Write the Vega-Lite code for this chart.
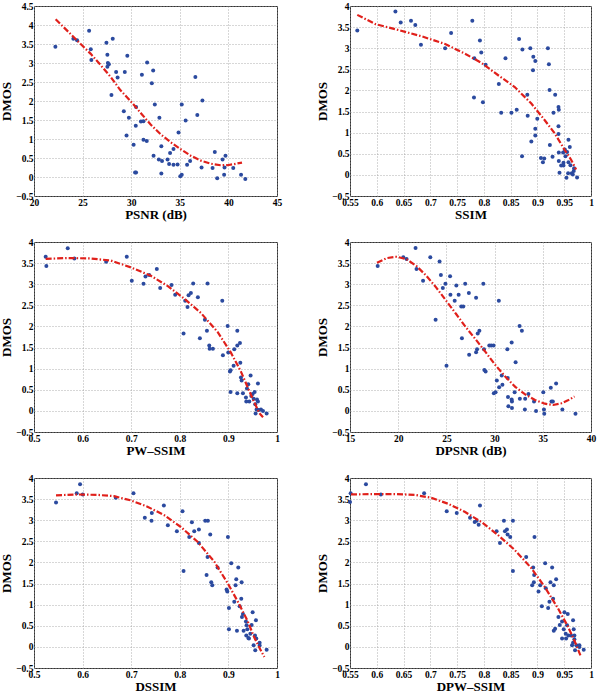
{
"$schema": "https://vega.github.io/schema/vega-lite/v6.json",
"padding": {"left": 0, "top": 0, "right": 0, "bottom": 0},
"datasets": {
"p1": [{"x":22.2,"y":3.43},{"x":24.05,"y":3.64},{"x":24.43,"y":3.6},{"x":25.67,"y":3.85},{"x":25.84,"y":3.36},{"x":25.9,"y":3.08},{"x":27.45,"y":3.53},{"x":27.55,"y":3.22},{"x":27.6,"y":3.0},{"x":27.7,"y":2.97},{"x":27.55,"y":2.9},{"x":28.1,"y":3.64},{"x":28.45,"y":2.76},{"x":28.6,"y":2.62},{"x":27.97,"y":2.16},{"x":29.34,"y":2.76},{"x":29.6,"y":3.19},{"x":29.24,"y":1.73},{"x":29.76,"y":1.56},{"x":29.52,"y":1.09},{"x":30.25,"y":0.85},{"x":30.5,"y":1.84},{"x":30.47,"y":1.35},{"x":30.4,"y":0.12},{"x":30.5,"y":0.12},{"x":31.0,"y":1.46},{"x":31.26,"y":1.47},{"x":31.1,"y":2.69},{"x":31.26,"y":0.98},{"x":31.6,"y":0.95},{"x":31.64,"y":3.01},{"x":32.12,"y":2.47},{"x":32.26,"y":2.8},{"x":32.43,"y":1.91},{"x":32.3,"y":0.56},{"x":32.9,"y":1.56},{"x":32.84,"y":0.46},{"x":33.1,"y":0.81},{"x":33.17,"y":0.42},{"x":33.1,"y":0.09},{"x":33.74,"y":0.46},{"x":33.9,"y":0.34},{"x":34.0,"y":0.63},{"x":34.35,"y":0.74},{"x":34.35,"y":0.32},{"x":34.77,"y":0.33},{"x":34.87,"y":1.17},{"x":35.2,"y":1.91},{"x":35.05,"y":0.02},{"x":35.2,"y":0.06},{"x":35.6,"y":1.49},{"x":35.75,"y":0.32},{"x":36.06,"y":0.42},{"x":36.6,"y":2.63},{"x":36.8,"y":1.63},{"x":37.33,"y":2.01},{"x":37.24,"y":0.25},{"x":38.37,"y":0.24},{"x":38.6,"y":0.66},{"x":38.85,"y":-0.03},{"x":39.4,"y":0.46},{"x":39.6,"y":0.25},{"x":39.7,"y":0.56},{"x":39.56,"y":0.06},{"x":40.5,"y":0.24},{"x":41.3,"y":0.06},{"x":41.74,"y":-0.05}],
"c1": [{"x":22.23,"y":4.15},{"x":24.05,"y":3.69},{"x":24.8,"y":3.5},{"x":25.84,"y":3.24},{"x":26.87,"y":2.94},{"x":27.9,"y":2.63},{"x":28.9,"y":2.28},{"x":29.96,"y":1.99},{"x":31.0,"y":1.68},{"x":32.0,"y":1.38},{"x":33.05,"y":1.12},{"x":34.08,"y":0.91},{"x":35.1,"y":0.73},{"x":36.13,"y":0.56},{"x":37.17,"y":0.43},{"x":38.2,"y":0.35},{"x":39.2,"y":0.31},{"x":39.9,"y":0.31},{"x":40.6,"y":0.34},{"x":41.4,"y":0.38}],
"p2": [{"x":0.5636,"y":3.42},{"x":0.6348,"y":3.87},{"x":0.6447,"y":3.61},{"x":0.6639,"y":3.65},{"x":0.6719,"y":3.55},{"x":0.6825,"y":3.08},{"x":0.7276,"y":3.0},{"x":0.7388,"y":3.36},{"x":0.7784,"y":3.65},{"x":0.7821,"y":2.76},{"x":0.7815,"y":1.83},{"x":0.7926,"y":3.18},{"x":0.7951,"y":2.9},{"x":0.7982,"y":1.72},{"x":0.8032,"y":2.61},{"x":0.8279,"y":2.15},{"x":0.8323,"y":1.47},{"x":0.8403,"y":2.76},{"x":0.8514,"y":1.47},{"x":0.8613,"y":1.54},{"x":0.8657,"y":3.22},{"x":0.8719,"y":2.97},{"x":0.8712,"y":0.44},{"x":0.8811,"y":1.9},{"x":0.8818,"y":1.4},{"x":0.8867,"y":3.0},{"x":0.8923,"y":2.8},{"x":0.8917,"y":2.48},{"x":0.8886,"y":0.79},{"x":0.896,"y":2.7},{"x":0.896,"y":1.09},{"x":0.896,"y":0.93},{"x":0.8997,"y":1.33},{"x":0.9065,"y":0.4},{"x":0.9102,"y":0.3},{"x":0.9127,"y":0.39},{"x":0.9195,"y":3.0},{"x":0.9214,"y":2.62},{"x":0.9226,"y":2.01},{"x":0.9232,"y":0.71},{"x":0.9282,"y":0.43},{"x":0.93,"y":1.47},{"x":0.9331,"y":1.9},{"x":0.9393,"y":1.61},{"x":0.9399,"y":1.54},{"x":0.9393,"y":1.15},{"x":0.9393,"y":0.97},{"x":0.9399,"y":0.53},{"x":0.9399,"y":0.33},{"x":0.9412,"y":0.05},{"x":0.9443,"y":0.22},{"x":0.9486,"y":0.29},{"x":0.9486,"y":0.22},{"x":0.948,"y":0.53},{"x":0.9511,"y":0.6},{"x":0.9523,"y":0.44},{"x":0.9542,"y":-0.07},{"x":0.9554,"y":0.54},{"x":0.9573,"y":0.04},{"x":0.9579,"y":0.83},{"x":0.9579,"y":0.3},{"x":0.9604,"y":0.66},{"x":0.9616,"y":0.23},{"x":0.9641,"y":0.04},{"x":0.966,"y":0.01},{"x":0.9678,"y":0.09},{"x":0.9684,"y":0.16},{"x":0.974,"y":-0.06}],
"c2": [{"x":0.5636,"y":3.79},{"x":0.5977,"y":3.57},{"x":0.641,"y":3.43},{"x":0.6843,"y":3.28},{"x":0.7276,"y":3.1},{"x":0.7648,"y":2.87},{"x":0.7957,"y":2.65},{"x":0.8267,"y":2.36},{"x":0.8576,"y":2.08},{"x":0.8886,"y":1.69},{"x":0.9133,"y":1.3},{"x":0.9319,"y":0.99},{"x":0.9505,"y":0.6},{"x":0.9628,"y":0.36},{"x":0.9721,"y":0.13}],
"p3": [{"x":0.524,"y":3.65},{"x":0.5254,"y":3.43},{"x":0.5694,"y":3.85},{"x":0.5831,"y":3.61},{"x":0.6484,"y":3.53},{"x":0.6909,"y":3.65},{"x":0.7012,"y":3.08},{"x":0.7253,"y":3.01},{"x":0.7294,"y":3.18},{"x":0.737,"y":3.22},{"x":0.7527,"y":3.36},{"x":0.7596,"y":2.91},{"x":0.783,"y":2.98},{"x":0.7905,"y":2.75},{"x":0.8077,"y":1.83},{"x":0.8111,"y":2.61},{"x":0.8159,"y":2.46},{"x":0.818,"y":2.74},{"x":0.8228,"y":2.79},{"x":0.8276,"y":3.02},{"x":0.8372,"y":2.69},{"x":0.8413,"y":1.72},{"x":0.8516,"y":2.16},{"x":0.8558,"y":1.9},{"x":0.8571,"y":3.02},{"x":0.8606,"y":1.55},{"x":0.8613,"y":1.47},{"x":0.8681,"y":1.47},{"x":0.8874,"y":2.61},{"x":0.8887,"y":1.32},{"x":0.8984,"y":2.01},{"x":0.8997,"y":1.38},{"x":0.9032,"y":0.93},{"x":0.9045,"y":0.96},{"x":0.9045,"y":0.45},{"x":0.9107,"y":1.07},{"x":0.9121,"y":1.46},{"x":0.9183,"y":1.9},{"x":0.9183,"y":1.55},{"x":0.9183,"y":0.42},{"x":0.9238,"y":1.61},{"x":0.9245,"y":1.14},{"x":0.9258,"y":0.79},{"x":0.9272,"y":0.72},{"x":0.9299,"y":0.42},{"x":0.9361,"y":0.32},{"x":0.9368,"y":0.22},{"x":0.9382,"y":0.53},{"x":0.9409,"y":0.63},{"x":0.943,"y":0.22},{"x":0.9457,"y":0.84},{"x":0.9471,"y":0.35},{"x":0.9499,"y":0.4},{"x":0.9519,"y":0.29},{"x":0.954,"y":0.45},{"x":0.9553,"y":0.16},{"x":0.956,"y":-0.06},{"x":0.958,"y":0.03},{"x":0.9588,"y":0.27},{"x":0.9608,"y":0.65},{"x":0.9608,"y":0.22},{"x":0.9622,"y":0.02},{"x":0.967,"y":0.03},{"x":0.9712,"y":0.0},{"x":0.9787,"y":-0.06}],
"c3": [{"x":0.524,"y":3.6},{"x":0.5687,"y":3.62},{"x":0.6168,"y":3.61},{"x":0.658,"y":3.56},{"x":0.6992,"y":3.4},{"x":0.7404,"y":3.2},{"x":0.7747,"y":2.96},{"x":0.8091,"y":2.66},{"x":0.8434,"y":2.32},{"x":0.8777,"y":1.87},{"x":0.9052,"y":1.38},{"x":0.9258,"y":0.93},{"x":0.943,"y":0.47},{"x":0.9533,"y":0.2},{"x":0.9636,"y":-0.05},{"x":0.9712,"y":-0.15}],
"p4": [{"x":17.87,"y":3.43},{"x":20.53,"y":3.64},{"x":20.87,"y":3.6},{"x":21.8,"y":3.86},{"x":21.9,"y":3.36},{"x":22.58,"y":3.08},{"x":23.33,"y":3.64},{"x":23.88,"y":2.16},{"x":24.29,"y":3.54},{"x":24.43,"y":3.22},{"x":24.63,"y":2.91},{"x":24.9,"y":3.01},{"x":25.01,"y":1.07},{"x":25.38,"y":3.19},{"x":25.42,"y":2.75},{"x":25.86,"y":2.61},{"x":26.03,"y":2.97},{"x":26.27,"y":2.75},{"x":26.54,"y":2.47},{"x":26.61,"y":1.72},{"x":26.75,"y":2.47},{"x":26.95,"y":3.01},{"x":27.33,"y":2.79},{"x":27.36,"y":1.33},{"x":28.08,"y":2.68},{"x":28.08,"y":1.39},{"x":28.18,"y":1.46},{"x":28.25,"y":1.83},{"x":28.42,"y":1.9},{"x":28.83,"y":3.01},{"x":28.9,"y":1.46},{"x":28.94,"y":0.97},{"x":29.07,"y":0.93},{"x":29.45,"y":1.55},{"x":29.65,"y":1.55},{"x":29.89,"y":1.55},{"x":29.92,"y":0.42},{"x":30.1,"y":0.44},{"x":30.23,"y":0.72},{"x":30.44,"y":2.61},{"x":30.47,"y":0.56},{"x":30.74,"y":0.84},{"x":30.81,"y":0.62},{"x":31.32,"y":1.46},{"x":31.36,"y":0.78},{"x":31.39,"y":0.33},{"x":31.43,"y":0.11},{"x":31.77,"y":1.62},{"x":31.77,"y":0.27},{"x":31.8,"y":0.22},{"x":31.8,"y":0.07},{"x":32.08,"y":0.44},{"x":32.18,"y":1.15},{"x":32.59,"y":2.01},{"x":32.83,"y":1.9},{"x":32.62,"y":0.29},{"x":33.17,"y":0.29},{"x":33.14,"y":0.03},{"x":33.51,"y":0.4},{"x":34.09,"y":0.22},{"x":34.3,"y":0.0},{"x":35.05,"y":0.44},{"x":35.12,"y":0.03},{"x":35.15,"y":-0.07},{"x":35.83,"y":0.55},{"x":35.9,"y":0.22},{"x":36.04,"y":0.22},{"x":36.38,"y":0.65},{"x":37.03,"y":0.03},{"x":38.39,"y":-0.07}],
"c4": [{"x":17.8,"y":3.51},{"x":18.83,"y":3.62},{"x":19.85,"y":3.65},{"x":20.87,"y":3.59},{"x":21.9,"y":3.43},{"x":22.92,"y":3.2},{"x":23.95,"y":2.92},{"x":24.97,"y":2.61},{"x":25.99,"y":2.3},{"x":27.02,"y":1.98},{"x":28.05,"y":1.69},{"x":29.07,"y":1.39},{"x":30.1,"y":1.08},{"x":31.12,"y":0.81},{"x":32.14,"y":0.57},{"x":33.17,"y":0.39},{"x":34.19,"y":0.26},{"x":35.22,"y":0.17},{"x":36.07,"y":0.14},{"x":36.93,"y":0.18},{"x":37.61,"y":0.25},{"x":38.29,"y":0.34}],
"p5": [{"x":0.5453,"y":3.42},{"x":0.5879,"y":3.64},{"x":0.5948,"y":3.85},{"x":0.6003,"y":3.61},{"x":0.6683,"y":3.53},{"x":0.7047,"y":3.64},{"x":0.728,"y":3.06},{"x":0.7424,"y":3.17},{"x":0.7418,"y":2.99},{"x":0.7672,"y":3.35},{"x":0.7754,"y":2.88},{"x":0.794,"y":2.74},{"x":0.8056,"y":3.21},{"x":0.8077,"y":1.8},{"x":0.8194,"y":2.6},{"x":0.8249,"y":2.95},{"x":0.8297,"y":2.74},{"x":0.8393,"y":2.78},{"x":0.8393,"y":2.46},{"x":0.8523,"y":2.99},{"x":0.8578,"y":2.99},{"x":0.8551,"y":1.7},{"x":0.8571,"y":2.13},{"x":0.8626,"y":2.66},{"x":0.8647,"y":1.53},{"x":0.8668,"y":1.46},{"x":0.8777,"y":1.88},{"x":0.8963,"y":1.36},{"x":0.8977,"y":1.31},{"x":0.899,"y":2.6},{"x":0.9011,"y":0.92},{"x":0.9011,"y":0.42},{"x":0.9059,"y":1.98},{"x":0.9121,"y":1.07},{"x":0.9148,"y":1.46},{"x":0.9162,"y":1.6},{"x":0.9176,"y":0.38},{"x":0.9203,"y":1.88},{"x":0.9231,"y":0.96},{"x":0.9265,"y":1.14},{"x":0.9272,"y":1.53},{"x":0.9279,"y":0.71},{"x":0.9299,"y":0.78},{"x":0.9313,"y":0.38},{"x":0.9361,"y":0.6},{"x":0.9375,"y":0.51},{"x":0.9368,"y":0.27},{"x":0.9389,"y":0.42},{"x":0.941,"y":0.21},{"x":0.9423,"y":0.2},{"x":0.9451,"y":0.31},{"x":0.9478,"y":0.52},{"x":0.9499,"y":0.82},{"x":0.9519,"y":0.04},{"x":0.9547,"y":0.27},{"x":0.9553,"y":-0.08},{"x":0.9567,"y":0.63},{"x":0.9574,"y":0.2},{"x":0.9643,"y":0.1},{"x":0.9643,"y":0.03},{"x":0.9787,"y":-0.07}],
"c5": [{"x":0.5453,"y":3.59},{"x":0.5893,"y":3.61},{"x":0.6305,"y":3.6},{"x":0.6648,"y":3.57},{"x":0.6992,"y":3.47},{"x":0.7335,"y":3.32},{"x":0.7679,"y":3.12},{"x":0.8022,"y":2.84},{"x":0.8365,"y":2.49},{"x":0.8709,"y":2.02},{"x":0.8984,"y":1.51},{"x":0.919,"y":1.08},{"x":0.9396,"y":0.61},{"x":0.9533,"y":0.22},{"x":0.967,"y":-0.09},{"x":0.9739,"y":-0.24}],
"p6": [{"x":0.55,"y":3.43},{"x":0.5512,"y":3.64},{"x":0.5798,"y":3.85},{"x":0.6077,"y":3.61},{"x":0.6884,"y":3.64},{"x":0.7306,"y":3.21},{"x":0.7493,"y":3.17},{"x":0.7741,"y":3.06},{"x":0.7828,"y":2.96},{"x":0.7865,"y":2.99},{"x":0.7902,"y":2.89},{"x":0.7927,"y":3.35},{"x":0.8237,"y":2.74},{"x":0.83,"y":2.46},{"x":0.8374,"y":2.99},{"x":0.8393,"y":2.74},{"x":0.843,"y":2.78},{"x":0.8442,"y":2.66},{"x":0.8492,"y":2.6},{"x":0.8542,"y":2.99},{"x":0.8542,"y":1.8},{"x":0.879,"y":2.13},{"x":0.8902,"y":1.46},{"x":0.892,"y":1.88},{"x":0.8933,"y":1.53},{"x":0.8939,"y":1.7},{"x":0.8945,"y":2.6},{"x":0.902,"y":1.31},{"x":0.9051,"y":1.46},{"x":0.9082,"y":0.96},{"x":0.9144,"y":1.98},{"x":0.9156,"y":1.39},{"x":0.92,"y":0.92},{"x":0.9224,"y":1.07},{"x":0.9243,"y":1.53},{"x":0.9274,"y":1.88},{"x":0.9293,"y":1.14},{"x":0.9305,"y":1.46},{"x":0.9305,"y":0.38},{"x":0.933,"y":0.43},{"x":0.9349,"y":1.6},{"x":0.9392,"y":0.71},{"x":0.9417,"y":0.52},{"x":0.946,"y":0.6},{"x":0.946,"y":0.2},{"x":0.9491,"y":0.42},{"x":0.9504,"y":0.82},{"x":0.9528,"y":0.31},{"x":0.9535,"y":0.2},{"x":0.9553,"y":0.51},{"x":0.9566,"y":0.78},{"x":0.9578,"y":0.27},{"x":0.9628,"y":0.27},{"x":0.9646,"y":0.04},{"x":0.9665,"y":0.1},{"x":0.9665,"y":0.63},{"x":0.9677,"y":0.42},{"x":0.969,"y":0.27},{"x":0.9702,"y":-0.08},{"x":0.969,"y":0.18},{"x":0.9727,"y":0.04},{"x":0.9783,"y":0.0},{"x":0.9783,"y":0.04},{"x":0.9864,"y":-0.07}],
"c6": [{"x":0.5519,"y":3.61},{"x":0.5903,"y":3.62},{"x":0.6338,"y":3.62},{"x":0.671,"y":3.6},{"x":0.7021,"y":3.53},{"x":0.7331,"y":3.39},{"x":0.7642,"y":3.2},{"x":0.7952,"y":2.96},{"x":0.8262,"y":2.65},{"x":0.8573,"y":2.3},{"x":0.8883,"y":1.87},{"x":0.9131,"y":1.43},{"x":0.938,"y":0.92},{"x":0.9566,"y":0.49},{"x":0.9721,"y":0.06},{"x":0.9814,"y":-0.24}]
},
"columns": 2,
"spacing": {"row": 14, "column": 33},
"concat": [
{"width": 243, "height": 190, "layer": [
 {"data": {"name": "p1"}, "mark": {"type": "circle", "size": 16, "color": "#2b4a9f", "opacity": 1},
  "encoding": {"x": {"field": "x", "type": "quantitative", "title": "PSNR (dB)", "scale": {"domain": [20, 45], "nice": false, "zero": false}, "axis": {"values": [20,25,30,35,40,45], "tickCount": 30, "labelOverlap": false, "labelFlush": false}},
   "y": {"field": "y", "type": "quantitative", "title": "DMOS", "scale": {"domain": [-0.5, 4.5], "nice": false, "zero": false}, "axis": {"values": [-0.5,0,0.5,1,1.5,2,2.5,3,3.5,4,4.5], "tickCount": 30, "labelOverlap": false, "labelFlush": false}}}},
 {"data": {"name": "c1"}, "mark": {"type": "line", "color": "#e0201b", "strokeWidth": 2.2, "strokeDash": [6,2,1.5,2]},
  "encoding": {"x": {"field": "x", "type": "quantitative"}, "y": {"field": "y", "type": "quantitative"}}}
]},
{"width": 241, "height": 190, "layer": [
 {"data": {"name": "p2"}, "mark": {"type": "circle", "size": 16, "color": "#2b4a9f", "opacity": 1},
  "encoding": {"x": {"field": "x", "type": "quantitative", "title": "SSIM", "scale": {"domain": [0.55, 1], "nice": false, "zero": false}, "axis": {"values": [0.55,0.6,0.65,0.7,0.75,0.8,0.85,0.9,0.95,1], "tickCount": 30, "labelOverlap": false, "labelFlush": false}},
   "y": {"field": "y", "type": "quantitative", "title": "DMOS", "scale": {"domain": [-0.5, 4], "nice": false, "zero": false}, "axis": {"values": [-0.5,0,0.5,1,1.5,2,2.5,3,3.5,4], "tickCount": 30, "labelOverlap": false, "labelFlush": false}}}},
 {"data": {"name": "c2"}, "mark": {"type": "line", "color": "#e0201b", "strokeWidth": 2.2, "strokeDash": [6,2,1.5,2]},
  "encoding": {"x": {"field": "x", "type": "quantitative"}, "y": {"field": "y", "type": "quantitative"}}}
]},
{"width": 243, "height": 190, "layer": [
 {"data": {"name": "p3"}, "mark": {"type": "circle", "size": 16, "color": "#2b4a9f", "opacity": 1},
  "encoding": {"x": {"field": "x", "type": "quantitative", "title": "PW–SSIM", "scale": {"domain": [0.5, 1], "nice": false, "zero": false}, "axis": {"values": [0.5,0.6,0.7,0.8,0.9,1], "tickCount": 30, "labelOverlap": false, "labelFlush": false}},
   "y": {"field": "y", "type": "quantitative", "title": "DMOS", "scale": {"domain": [-0.5, 4], "nice": false, "zero": false}, "axis": {"values": [-0.5,0,0.5,1,1.5,2,2.5,3,3.5,4], "tickCount": 30, "labelOverlap": false, "labelFlush": false}}}},
 {"data": {"name": "c3"}, "mark": {"type": "line", "color": "#e0201b", "strokeWidth": 2.2, "strokeDash": [6,2,1.5,2]},
  "encoding": {"x": {"field": "x", "type": "quantitative"}, "y": {"field": "y", "type": "quantitative"}}}
]},
{"width": 241, "height": 190, "layer": [
 {"data": {"name": "p4"}, "mark": {"type": "circle", "size": 16, "color": "#2b4a9f", "opacity": 1},
  "encoding": {"x": {"field": "x", "type": "quantitative", "title": "DPSNR (dB)", "scale": {"domain": [15, 40], "nice": false, "zero": false}, "axis": {"values": [15,20,25,30,35,40], "tickCount": 30, "labelOverlap": false, "labelFlush": false}},
   "y": {"field": "y", "type": "quantitative", "title": "DMOS", "scale": {"domain": [-0.5, 4], "nice": false, "zero": false}, "axis": {"values": [-0.5,0,0.5,1,1.5,2,2.5,3,3.5,4], "tickCount": 30, "labelOverlap": false, "labelFlush": false}}}},
 {"data": {"name": "c4"}, "mark": {"type": "line", "color": "#e0201b", "strokeWidth": 2.2, "strokeDash": [6,2,1.5,2]},
  "encoding": {"x": {"field": "x", "type": "quantitative"}, "y": {"field": "y", "type": "quantitative"}}}
]},
{"width": 243, "height": 190, "layer": [
 {"data": {"name": "p5"}, "mark": {"type": "circle", "size": 16, "color": "#2b4a9f", "opacity": 1},
  "encoding": {"x": {"field": "x", "type": "quantitative", "title": "DSSIM", "scale": {"domain": [0.5, 1], "nice": false, "zero": false}, "axis": {"values": [0.5,0.6,0.7,0.8,0.9,1], "tickCount": 30, "labelOverlap": false, "labelFlush": false}},
   "y": {"field": "y", "type": "quantitative", "title": "DMOS", "scale": {"domain": [-0.5, 4], "nice": false, "zero": false}, "axis": {"values": [-0.5,0,0.5,1,1.5,2,2.5,3,3.5,4], "tickCount": 30, "labelOverlap": false, "labelFlush": false}}}},
 {"data": {"name": "c5"}, "mark": {"type": "line", "color": "#e0201b", "strokeWidth": 2.2, "strokeDash": [6,2,1.5,2]},
  "encoding": {"x": {"field": "x", "type": "quantitative"}, "y": {"field": "y", "type": "quantitative"}}}
]},
{"width": 241, "height": 190, "layer": [
 {"data": {"name": "p6"}, "mark": {"type": "circle", "size": 16, "color": "#2b4a9f", "opacity": 1},
  "encoding": {"x": {"field": "x", "type": "quantitative", "title": "DPW–SSIM", "scale": {"domain": [0.55, 1], "nice": false, "zero": false}, "axis": {"values": [0.55,0.6,0.65,0.7,0.75,0.8,0.85,0.9,0.95,1], "tickCount": 30, "labelOverlap": false, "labelFlush": false}},
   "y": {"field": "y", "type": "quantitative", "title": "DMOS", "scale": {"domain": [-0.5, 4], "nice": false, "zero": false}, "axis": {"values": [-0.5,0,0.5,1,1.5,2,2.5,3,3.5,4], "tickCount": 30, "labelOverlap": false, "labelFlush": false}}}},
 {"data": {"name": "c6"}, "mark": {"type": "line", "color": "#e0201b", "strokeWidth": 2.2, "strokeDash": [6,2,1.5,2]},
  "encoding": {"x": {"field": "x", "type": "quantitative"}, "y": {"field": "y", "type": "quantitative"}}}
]}
],
"config": {
 "view": {"stroke": "#333333", "strokeWidth": 1},
 "axis": {"grid": true, "gridColor": "#9a9a9a", "gridDash": [1, 2], "gridWidth": 0.8, "domain": false, "ticks": false,
  "labelFont": "Liberation Serif", "labelFontSize": 9.5, "labelFontWeight": "bold", "labelColor": "#000000", "labelPadding": 1, "format": ".2~f",
  "titleFont": "Liberation Serif", "titleFontSize": 13, "titleFontWeight": "bold", "titleColor": "#000000", "titlePadding": 2}
}
}
